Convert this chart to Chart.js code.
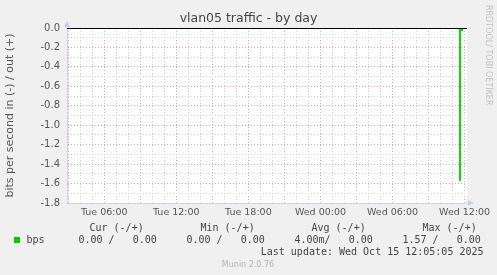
<!DOCTYPE html>
<html>
<head>
<meta charset="utf-8">
<script src="https://cdn.jsdelivr.net/npm/chart.js@4.4.1/dist/chart.umd.min.js"></script>
<style>
  html, body { margin: 0; padding: 0; background: #f0f0f0; }
  #wrap { width: 497px; height: 275px; }
</style>
</head>
<body>
<div id="wrap"><canvas id="munin" width="497" height="275"></canvas></div>
<script>
const chartTitle = 'vlan05 traffic - by day';
const yAxisTitle = 'bits per second in (-) / out (+)';
const sideText = 'RRDTOOL/ TOBI OETIKER';
const footerText = 'Munin 2.0.76';

// time axis in hours counted from Tue 00:00
const xMin = 2.9;
const xMax = 36.2;
const timeTickHours = [6, 12, 18, 24, 30, 36];
const timeTickLabels = ['Tue 06:00', 'Tue 12:00', 'Tue 18:00', 'Wed 00:00', 'Wed 06:00', 'Wed 12:00'];

const yTickValues = [0, -0.2, -0.4, -0.6, -0.8, -1.0, -1.2, -1.4, -1.6, -1.8];
const yTickLabels = ['0.0', '-0.2', '-0.4', '-0.6', '-0.8', '-1.0', '-1.2', '-1.4', '-1.6', '-1.8'];

// "in" is drawn below zero, "out" above
const inTimes = [2.9, 35.58, 35.67, 35.75, 35.83, 35.92, 36.08];
const inValues = [0, 0, -1.57, 0, -0.03, 0, 0];
const outTimes = [2.9, 36.08];
const outValues = [0, 0];
const zeroRule = 0;

const legendName = 'bps';
const statHeads = ['Cur (-/+)', 'Min (-/+)', 'Avg (-/+)', 'Max (-/+)'];
const statValues = ['0.00 /   0.00', '0.00 /   0.00', '4.00m/   0.00', '1.57 /   0.00'];
const lastUpdate = 'Last update: Wed Oct 15 12:05:05 2025';

const green = '#00cc00';
const gridGray = '#cfcfcf';
const gridRed = '#eda3a3';
const axisBlue = '#d0d0f4';

const pts = (xs, ys) => xs.map((x, i) => ({ x: x, y: ys[i] }));

const hourTicks = [];
for (let h = Math.ceil(xMin); h <= Math.floor(xMax); h++) hourTicks.push(h);
const tenthTicks = [];
for (let i = 18; i >= 0; i--) tenthTicks.push(-i / 10);

const findLabel = (vals, labels, v) => {
  const k = vals.findIndex(t => Math.abs(t - v) < 1e-6);
  return k < 0 ? '' : labels[k];
};

const muninDecor = {
  id: 'muninDecor',
  beforeDraw(chart) {
    const { ctx, chartArea: a } = chart;
    ctx.save();
    ctx.fillStyle = '#ffffff';
    ctx.fillRect(a.left, a.top, a.right - a.left, a.bottom - a.top);
    ctx.restore();
  },
  afterDatasetsDraw(chart) {
    // black HRULE at zero, on top of the series
    const { ctx, chartArea: a, scales } = chart;
    const y = Math.round(scales.y.getPixelForValue(zeroRule)) + 0.5;
    ctx.save();
    ctx.strokeStyle = '#000000';
    ctx.lineWidth = 1;
    ctx.beginPath();
    ctx.moveTo(a.left, y);
    ctx.lineTo(a.right, y);
    ctx.stroke();
    ctx.restore();
  },
  afterDraw(chart) {
    const { ctx, chartArea: a } = chart;
    ctx.save();

    // arrows on the axes
    ctx.fillStyle = '#c4ccf8';
    ctx.beginPath();
    ctx.moveTo(a.left, a.top - 7);
    ctx.lineTo(a.left - 3, a.top - 1);
    ctx.lineTo(a.left + 3, a.top - 1);
    ctx.closePath();
    ctx.fill();
    ctx.beginPath();
    ctx.moveTo(a.right + 7, a.bottom);
    ctx.lineTo(a.right + 1, a.bottom - 3);
    ctx.lineTo(a.right + 1, a.bottom + 3);
    ctx.closePath();
    ctx.fill();

    // title
    ctx.fillStyle = '#444';
    ctx.font = '12.5px "DejaVu Sans"';
    ctx.textAlign = 'center';
    ctx.textBaseline = 'middle';
    ctx.fillText(chartTitle, 248.5, 18.5);

    // y axis title
    ctx.save();
    ctx.translate(10.5, (a.top + a.bottom) / 2);
    ctx.rotate(-Math.PI / 2);
    ctx.fillStyle = '#555';
    ctx.font = '11px "DejaVu Sans"';
    ctx.fillText(yAxisTitle, 0, 0);
    ctx.restore();

    // side credit
    ctx.save();
    ctx.translate(488.5, 5);
    ctx.rotate(Math.PI / 2);
    ctx.fillStyle = '#c0c0c0';
    ctx.font = '8px "DejaVu Sans"';
    ctx.textAlign = 'left';
    ctx.fillText(sideText, 0, 0);
    ctx.restore();

    // legend block
    ctx.fillStyle = green;
    ctx.fillRect(14, 237, 6, 6);
    ctx.fillStyle = '#444';
    ctx.font = '10px "DejaVu Sans Mono"';
    ctx.textAlign = 'left';
    ctx.fillText(legendName, 26.5, 240);
    const headX = [89.5, 200.5, 311.5, 422.5];
    const valX = [78.5, 186.5, 294.5, 402.5];
    statHeads.forEach((s, i) => ctx.fillText(s, headX[i], 228));
    statValues.forEach((s, i) => ctx.fillText(s, valX[i], 240));
    ctx.textAlign = 'right';
    ctx.fillText(lastUpdate, 483.5, 252);

    ctx.fillStyle = '#b4b4b4';
    ctx.font = '8px "DejaVu Sans"';
    ctx.textAlign = 'center';
    ctx.fillText(footerText, 248, 264.5);
    ctx.restore();
  }
};

new Chart(document.getElementById('munin'), {
  type: 'line',
  data: {
    datasets: [
      { label: 'bps in', data: pts(inTimes, inValues), borderColor: green, borderWidth: 1, pointRadius: 0, stepped: 'after', clip: 0 },
      { label: 'bps out', data: pts(outTimes, outValues), borderColor: green, borderWidth: 1, pointRadius: 0, stepped: 'after', clip: 0 }
    ]
  },
  options: {
    responsive: false,
    animation: false,
    devicePixelRatio: 1,
    layout: { padding: { left: 0, top: 28, right: 30, bottom: 52 } },
    plugins: { legend: { display: false }, title: { display: false }, tooltip: { enabled: false } },
    scales: {
      x: {
        type: 'linear',
        min: xMin,
        max: xMax,
        afterBuildTicks: s => { s.ticks = hourTicks.map(v => ({ value: v })); },
        afterFit: s => { s.height = 20; s.paddingLeft = 0; s.paddingRight = 0; },
        ticks: {
          autoSkip: false,
          maxRotation: 0,
          padding: 4,
          color: '#555',
          font: { family: 'DejaVu Sans', size: 9.5 },
          callback: v => findLabel(timeTickHours, timeTickLabels, v)
        },
        grid: {
          drawTicks: false,
          color: c => (c.tick && Math.round(c.tick.value) % 3 === 0) ? gridRed : gridGray
        },
        border: { color: axisBlue, dash: [1, 2] }
      },
      y: {
        min: -1.8,
        max: 0,
        afterBuildTicks: s => { s.ticks = tenthTicks.map(v => ({ value: v })); },
        afterFit: s => { s.width = 67; s.paddingTop = 0; s.paddingBottom = 0; },
        ticks: {
          autoSkip: false,
          padding: 7,
          color: '#555',
          font: { family: 'DejaVu Sans', size: 10 },
          callback: v => findLabel(yTickValues, yTickLabels, v)
        },
        grid: {
          drawTicks: false,
          color: c => (c.tick && Math.round(c.tick.value * 10) % 2 === 0) ? gridRed : gridGray
        },
        border: { color: axisBlue, dash: [1, 2] }
      }
    }
  },
  plugins: [muninDecor]
});
</script>
</body>
</html>
